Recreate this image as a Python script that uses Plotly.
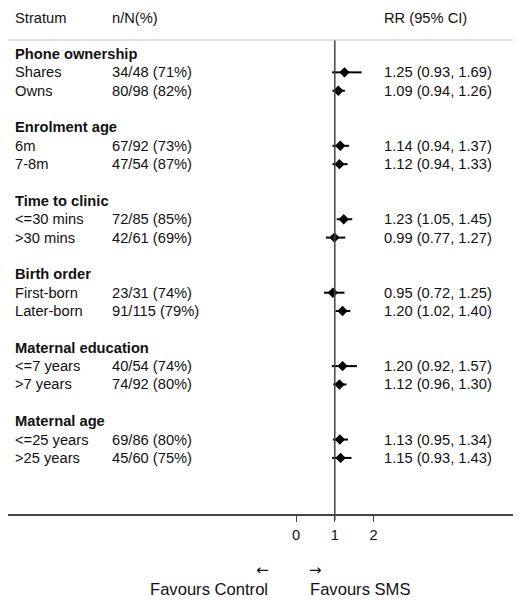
import plotly.graph_objects as go

# ---- data ----
groups = ["Phone ownership", "Enrolment age", "Time to clinic",
          "Birth order", "Maternal education", "Maternal age"]
strata = ["Shares", "Owns", "6m", "7-8m", "<=30 mins", ">30 mins",
          "First-born", "Later-born", "<=7 years", ">7 years",
          "<=25 years", ">25 years"]
strata_group = [0, 0, 1, 1, 2, 2, 3, 3, 4, 4, 5, 5]
n_events = [34, 80, 67, 47, 72, 42, 23, 91, 40, 74, 69, 45]
n_total = [48, 98, 92, 54, 85, 61, 31, 115, 54, 92, 86, 60]
pct = [71, 82, 73, 87, 85, 69, 74, 79, 74, 80, 80, 75]
rr = [1.25, 1.09, 1.14, 1.12, 1.23, 0.99, 0.95, 1.20, 1.20, 1.12, 1.13, 1.15]
rr_lo = [0.93, 0.94, 0.94, 0.94, 1.05, 0.77, 0.72, 1.02, 0.92, 0.96, 0.95, 0.93]
rr_hi = [1.69, 1.26, 1.37, 1.33, 1.45, 1.27, 1.25, 1.40, 1.57, 1.30, 1.34, 1.43]
x_ticks = [0, 1, 2]

FONT = "Liberation Sans, Arial, sans-serif"
FS = 14.7
FS_LAB = 16.6
TXT = "#111111"

W, H = 521, 600
ML, MT, MB = 0, 32, 94
PW = W - ML
PH = H - MT - MB

# row positions
group_rows = [4 * k for k in range(len(groups))]
strata_rows = []
count = {}
for g in strata_group:
    count[g] = count.get(g, 0) + 1
    strata_rows.append(4 * g + count[g])

fig = go.Figure()

# reference line at RR = 1
fig.add_shape(type="line", xref="x", yref="paper", x0=1, x1=1, y0=-6 / PH, y1=1,
              line=dict(color="#444444", width=1.5))
# header separator
fig.add_shape(type="line", xref="paper", yref="paper", x0=0, x1=1, y0=1, y1=1,
              line=dict(color="#bbbbbb", width=1))

fig.add_trace(go.Scatter(
    x=rr, y=strata_rows, mode="markers",
    marker=dict(symbol="diamond", size=8, color="black"),
    error_x=dict(type="data", symmetric=False,
                 array=[h - r for h, r in zip(rr_hi, rr)],
                 arrayminus=[r - l for r, l in zip(rr, rr_lo)],
                 width=0, thickness=2, color="black"),
    showlegend=False, hoverinfo="skip", cliponaxis=False))


def px(xpix):
    return (xpix - ML) / PW


X_STRAT, X_N, X_RR = px(5), px(102), px(373.5)
hy = 1 + 22 / PH
annots = []
for xx, t in [(X_STRAT, "Stratum"), (X_N, "n/N(%)"), (X_RR, "RR (95% CI)")]:
    annots.append(dict(xref="paper", yref="paper", x=xx, y=hy, text=t,
                       xanchor="left", yanchor="middle", showarrow=False,
                       font=dict(family=FONT, size=FS, color=TXT)))
for g, r in zip(groups, group_rows):
    annots.append(dict(xref="paper", yref="y", x=X_STRAT, y=r, text="<b>%s</b>" % g,
                       xanchor="left", yanchor="middle", showarrow=False,
                       font=dict(family=FONT, size=FS, color=TXT)))
for i, r in enumerate(strata_rows):
    for xx, t in [(X_STRAT, strata[i]),
                  (X_N, "%d/%d (%d%%)" % (n_events[i], n_total[i], pct[i])),
                  (X_RR, "%.2f (%.2f, %.2f)" % (rr[i], rr_lo[i], rr_hi[i]))]:
        annots.append(dict(xref="paper", yref="y", x=xx, y=r, text=t.replace("<", "&lt;"),
                           xanchor="left", yanchor="middle", showarrow=False,
                           font=dict(family=FONT, size=FS, color=TXT)))
# favours labels
arrow_y = -(569.5 - 514) / PH
lab_y = -(589 - 514) / PH
AF = "DejaVu Sans, sans-serif"
annots.append(dict(xref="paper", yref="paper", x=px(262), y=arrow_y, text="←",
                   xanchor="right", yanchor="middle", showarrow=False,
                   borderpad=0, font=dict(family=AF, size=15, color=TXT)))
annots.append(dict(xref="paper", yref="paper", x=px(300), y=arrow_y, text="→",
                   xanchor="left", yanchor="middle", showarrow=False,
                   borderpad=0, font=dict(family=AF, size=15, color=TXT)))
annots.append(dict(xref="paper", yref="paper", x=px(261), y=lab_y, text="Favours Control",
                   xanchor="right", yanchor="middle", showarrow=False,
                   borderpad=0, font=dict(family=FONT, size=FS_LAB, color=TXT)))
annots.append(dict(xref="paper", yref="paper", x=px(301), y=lab_y, text="Favours SMS",
                   xanchor="left", yanchor="middle", showarrow=False,
                   borderpad=0, font=dict(family=FONT, size=FS_LAB, color=TXT)))

scale = 38.8
zero_px = 288
fig.update_layout(
    width=W, height=H,
    margin=dict(l=ML, r=0, t=MT, b=MB),
    paper_bgcolor="white", plot_bgcolor="white",
    annotations=annots,
    xaxis=dict(range=[(ML - zero_px) / scale, (W - zero_px) / scale],
               tickvals=x_ticks, ticktext=[str(v) for v in x_ticks],
               ticks="outside", ticklen=6, tickcolor="#444444", tickwidth=1,
               showline=True, linecolor="#444444", linewidth=1.5,
               showgrid=False, zeroline=False, fixedrange=True,
               tickfont=dict(family=FONT, size=FS, color=TXT), ticklabelstandoff=1),
    yaxis=dict(range=[(514 - 54) / 18.36, (40 - 54) / 18.36], visible=False,
               showgrid=False, zeroline=False),
)

fig.write_html("out.html")
